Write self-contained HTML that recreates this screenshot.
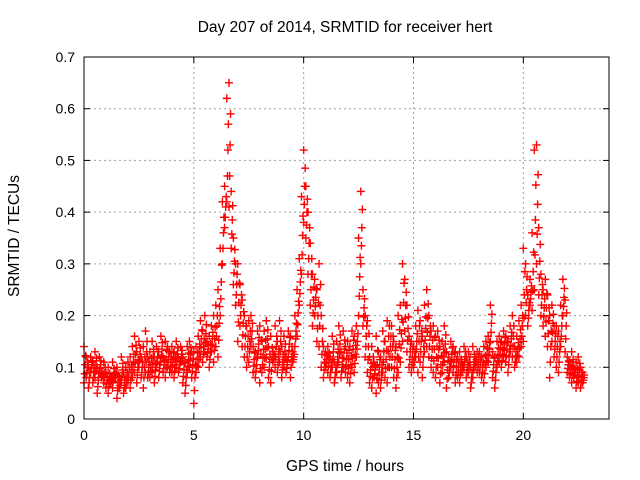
<!DOCTYPE html>
<html><head><meta charset="utf-8"><style>
body{margin:0;background:#fff}
svg{display:block;font-family:"Liberation Sans",sans-serif}
</style></head><body>
<svg id="chart" width="640" height="480" xmlns="http://www.w3.org/2000/svg">
<text x="345" y="32" font-size="15.5" text-anchor="middle">Day 207 of 2014, SRMTID for receiver hert</text>
<text transform="translate(19,236) rotate(-90)" font-size="15.5" text-anchor="middle">SRMTID / TECUs</text>
<text x="345" y="471" font-size="15.5" text-anchor="middle">GPS time / hours</text>
<g id="grid"></g>
<g id="ticks"></g>
<g id="marks"></g>
<rect x="84" y="57" width="525" height="362" fill="none" stroke="#000" stroke-width="1"/>
</svg>
<script>
const xTicks=[0,5,10,15,20];
const yTicks=[0,0.1,0.2,0.3,0.4,0.5,0.6,0.7];
const yTickLabels=["0","0.1","0.2","0.3","0.4","0.5","0.6","0.7"];
const times=[
0,0.1,0.2,0.3,0.4,0.5,0.6,0.7,0.8,0.9,
1,1.1,1.2,1.3,1.4,1.5,1.6,1.7,1.8,1.9,
2,2.1,2.2,2.3,2.4,2.5,2.6,2.7,2.8,2.9,
3,3.1,3.2,3.3,3.4,3.5,3.6,3.7,3.8,3.9,
4,4.1,4.2,4.3,4.4,4.5,4.6,4.7,4.8,4.9,
5,5.1,5.2,5.3,5.4,5.5,5.6,5.7,5.8,5.9,
6,6.1,6.2,6.3,6.4,6.5,6.6,6.7,6.8,6.9,
7,7.1,7.2,7.3,7.4,7.5,7.6,7.7,7.8,7.9,
8,8.1,8.2,8.3,8.4,8.5,8.6,8.7,8.8,8.9,
9,9.1,9.2,9.3,9.4,9.5,9.6,9.7,9.8,9.9,
10,10.1,10.2,10.3,10.4,10.5,10.6,10.7,10.8,10.9,
11,11.1,11.2,11.3,11.4,11.5,11.6,11.7,11.8,11.9,
12,12.1,12.2,12.3,12.4,12.5,12.6,12.7,12.8,12.9,
13,13.1,13.2,13.3,13.4,13.5,13.6,13.7,13.8,13.9,
14,14.1,14.2,14.3,14.4,14.5,14.6,14.7,14.8,14.9,
15,15.1,15.2,15.3,15.4,15.5,15.6,15.7,15.8,15.9,
16,16.1,16.2,16.3,16.4,16.5,16.6,16.7,16.8,16.9,
17,17.1,17.2,17.3,17.4,17.5,17.6,17.7,17.8,17.9,
18,18.1,18.2,18.3,18.4,18.5,18.6,18.7,18.8,18.9,
19,19.1,19.2,19.3,19.4,19.5,19.6,19.7,19.8,19.9,
20,20.1,20.2,20.3,20.4,20.5,20.6,20.7,20.8,20.9,
21,21.1,21.2,21.3,21.4,21.5,21.6,21.7,21.8,21.9,
22,22.1,22.2,22.3,22.4,22.5,22.6,22.7];
const valsA=[
.07,.08,.06,.09,.07,.08,.05,.09,.08,.07,
.06,.05,.07,.06,.08,.04,.06,.07,.05,.06,
.07,.06,.08,.09,.07,.10,.08,.06,.09,.08,
.08,.09,.07,.10,.08,.11,.09,.08,.10,.09,
.09,.08,.10,.09,.11,.07,.05,.09,.10,.08,
.03,.09,.10,.12,.11,.13,.12,.10,.13,.11,
.14,.12,.20,.30,.37,.42,.41,.33,.26,.22,
.15,.18,.14,.12,.10,.11,.14,.09,.08,.12,
.07,.09,.10,.12,.08,.07,.11,.10,.09,.11,
.08,.10,.09,.12,.08,.11,.14,.16,.22,.28,
.38,.35,.28,.22,.18,.20,.15,.14,.10,.08,
.10,.09,.08,.10,.07,.09,.11,.08,.10,.09,
.08,.07,.10,.09,.12,.20,.30,.18,.12,.09,
.07,.06,.08,.05,.07,.06,.09,.08,.07,.10,
.10,.08,.06,.09,.11,.15,.17,.13,.10,.09,
.10,.12,.09,.11,.08,.13,.14,.12,.10,.09,
.08,.10,.07,.09,.11,.06,.08,.10,.09,.07,
.08,.07,.09,.10,.08,.09,.06,.08,.10,.09,
.09,.08,.07,.10,.11,.15,.08,.06,.10,.11,
.10,.12,.11,.09,.13,.12,.10,.11,.12,.14,
.15,.20,.18,.22,.21,.25,.30,.24,.20,.18,
.16,.14,.08,.15,.12,.10,.09,.14,.20,.13,
.09,.08,.07,.08,.06,.07,.06,.07];
const valsB=[
.14,.12,.10,.12,.11,.13,.10,.12,.09,.11,
.09,.10,.08,.11,.09,.10,.08,.12,.09,.10,
.11,.12,.14,.16,.13,.15,.12,.14,.17,.12,
.13,.15,.12,.14,.13,.16,.12,.15,.14,.13,
.14,.13,.15,.12,.14,.12,.11,.14,.15,.13,
.13,.14,.16,.19,.17,.20,.15,.16,.18,.20,
.22,.25,.33,.42,.45,.62,.65,.44,.35,.30,
.30,.26,.23,.20,.18,.19,.20,.14,.13,.17,
.18,.15,.17,.19,.14,.16,.13,.18,.15,.19,
.14,.16,.12,.17,.16,.13,.20,.25,.31,.43,
.52,.45,.40,.34,.28,.27,.25,.30,.20,.14,
.13,.14,.12,.16,.11,.15,.18,.13,.17,.14,
.15,.14,.17,.16,.18,.35,.44,.25,.20,.19,
.12,.14,.11,.16,.13,.12,.17,.15,.19,.18,
.18,.15,.14,.20,.22,.30,.27,.22,.16,.15,
.14,.18,.21,.19,.16,.22,.25,.20,.17,.18,
.16,.17,.14,.15,.18,.13,.12,.15,.14,.13,
.12,.13,.11,.14,.12,.13,.10,.14,.12,.13,
.13,.12,.14,.15,.16,.22,.13,.12,.15,.16,
.15,.17,.16,.15,.18,.20,.14,.16,.19,.22,
.33,.30,.24,.27,.36,.52,.53,.37,.28,.25,
.27,.24,.20,.22,.18,.18,.17,.22,.27,.23,
.12,.11,.13,.10,.11,.12,.10,.09];
const NS="http://www.w3.org/2000/svg";
const X0=84,X1=609,Y0=419,Y1=57,XMAX=23.9,YMAX=0.7;
function xs(v){return X0+(X1-X0)*v/XMAX;}
function ys(v){return Y0-(Y0-Y1)*v/YMAX;}
function mk(tag,attrs,parent){const e=document.createElementNS(NS,tag);for(const k in attrs)e.setAttribute(k,attrs[k]);parent.appendChild(e);return e;}
const grid=document.getElementById('grid'),ticks=document.getElementById('ticks'),marks=document.getElementById('marks');
yTicks.forEach((t,i)=>{
  const y=ys(t);
  if(t>0&&t<YMAX){const g=mk('line',{x1:X0,x2:X1,y1:y,y2:y,stroke:'#a0a0a0','stroke-dasharray':'2,3'},grid);
  
  }
  mk('line',{x1:X0,x2:X0+6,y1:y,y2:y,stroke:'#000'},ticks);
  mk('line',{x1:X1,x2:X1-6,y1:y,y2:y,stroke:'#000'},ticks);
  const l=mk('text',{x:X0-9,y:y+5,'font-size':14,'text-anchor':'end'},ticks);l.textContent=yTickLabels[i];
  
  
});
xTicks.forEach(t=>{
  const x=xs(t);
  if(t>0){const g=mk('line',{x1:x,x2:x,y1:Y0,y2:Y1,stroke:'#a0a0a0','stroke-dasharray':'2,3'},grid);
  
  }
  mk('line',{x1:x,x2:x,y1:Y0,y2:Y0-6,stroke:'#000'},ticks);
  mk('line',{x1:x,x2:x,y1:Y1,y2:Y1+6,stroke:'#000'},ticks);
  const l=mk('text',{x:x,y:Y0+21,'font-size':14,'text-anchor':'middle'},ticks);l.textContent=String(t);
  
  
});
function cross(t,v){
  const x=xs(t),y=ys(v);
  const p=mk('path',{d:`M${x-4},${y}H${x+4}M${x},${y-4}V${y+4}`,stroke:'#ff0000','stroke-width':1.4,fill:'none'},marks);
  
  
}
times.forEach((t,i)=>{
  const a=valsA[i],b=valsB[i];
  cross(t,a);cross(t,b);
  cross(t+0.05,(a+b)/2);
  cross(t+0.03,a+(b-a)*0.25);
  cross(t+0.07,a+(b-a)*0.75);
});
</script>
</body></html>
